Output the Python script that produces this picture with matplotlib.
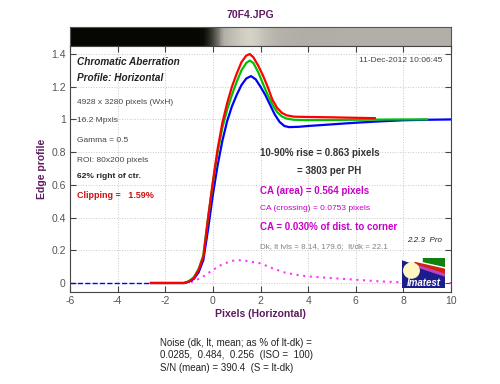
import matplotlib
matplotlib.use("Agg")
import matplotlib.pyplot as plt
import matplotlib.patches as mpatches
from matplotlib.colors import LinearSegmentedColormap
import numpy as np

plt.rcParams['font.family'] = ['Liberation Sans', 'DejaVu Sans']
plt.rcParams['axes.unicode_minus'] = False

# Edge profiles (x in pixels, y = edge profile)
red_x = [-2.6, -1.5, -1.2, -1.0, -0.8, -0.6, -0.4, -0.2, 0.0, 0.2, 0.4, 0.6, 0.8, 1.0, 1.2, 1.4, 1.55,
         1.7, 1.9, 2.1, 2.3, 2.5, 2.7, 2.9, 3.1, 3.4, 4.0, 5.0, 6.0, 6.8]
red_y = [0.0, 0.0, 0.0, 0.01, 0.03, 0.08, 0.16, 0.40, 0.62, 0.82, 0.98, 1.10, 1.20, 1.28, 1.35, 1.39, 1.40,
         1.38, 1.33, 1.27, 1.20, 1.12, 1.07, 1.04, 1.025, 1.017, 1.015, 1.013, 1.01, 1.008]

green_x = [-2.6, -1.5, -1.2, -1.0, -0.8, -0.6, -0.4, -0.2, 0.0, 0.2, 0.4, 0.6, 0.8, 1.0, 1.2, 1.4, 1.55,
           1.7, 1.9, 2.1, 2.3, 2.5, 2.7, 2.9, 3.1, 3.4, 4.0, 5.0, 6.0, 7.0, 8.0, 9.0]
green_y = [0.0, 0.0, 0.0, 0.012, 0.035, 0.085, 0.17, 0.40, 0.61, 0.80, 0.95, 1.06, 1.15, 1.23, 1.30, 1.345, 1.36,
           1.345, 1.29, 1.22, 1.15, 1.09, 1.045, 1.018, 1.005, 0.998, 0.996, 0.997, 0.998, 0.999, 1.0, 1.0]

blue_x = [-2.6, -1.5, -1.2, -1.0, -0.8, -0.6, -0.4, -0.2, 0.0, 0.2, 0.4, 0.6, 0.8, 1.0, 1.2, 1.4, 1.6,
          1.8, 2.0, 2.2, 2.4, 2.6, 2.8, 3.0, 3.2, 3.6, 4.0, 5.0, 6.0, 7.0, 8.0, 9.0, 10.0]
blue_y = [0.0, 0.0, 0.0, 0.008, 0.025, 0.065, 0.14, 0.33, 0.54, 0.72, 0.87, 0.99, 1.08, 1.15, 1.21, 1.25, 1.265,
          1.245, 1.20, 1.15, 1.09, 1.03, 0.985, 0.96, 0.953, 0.955, 0.96, 0.97, 0.98, 0.988, 0.995, 0.998, 1.0]

blue_ext_x = [-6.0, -2.6]
blue_ext_y = [0.0, 0.0]

# CA difference curve (magenta dots)
ca_x = [-1.2, -0.8, -0.4, 0.0, 0.4, 0.8, 1.0, 1.3, 1.6, 2.0, 2.5, 3.0, 3.5, 4.0, 5.0, 6.0, 7.0, 8.0, 9.0, 10.0]
ca_y = [0.0, 0.01, 0.04, 0.08, 0.115, 0.135, 0.14, 0.138, 0.13, 0.12, 0.09, 0.065, 0.05, 0.04, 0.03, 0.02,
        0.01, 0.004, 0.002, 0.0]

xticks = [-6, -4, -2, 0, 2, 4, 6, 8, 10]
yticks = [0, 0.2, 0.4, 0.6, 0.8, 1.0, 1.2, 1.4]
ytick_labels = ['0', '0.2', '0.4', '0.6', '0.8', '1', '1.2', '1.4']

W, H = 500, 384
fig = plt.figure(figsize=(5.0, 3.84), dpi=100)
fig.patch.set_facecolor('white')

def fx(px):
    return px / W

def fy(py):
    return 1 - py / H

purple = '#5e1a60'
magenta = '#c800c8'
dark = '#333333'

# image strip above the plot (edge rendered with gamma)
strip = fig.add_axes([fx(70), fy(46), fx(381), 19 / H])
sx = np.linspace(-6, 10, 400)
level = np.interp(sx, green_x, green_y, left=0.0, right=1.0) ** 2
strip_cmap = LinearSegmentedColormap.from_list(
    'edge', [(0.0, (0.03, 0.03, 0.01)), (1.0 / 1.9, (0.70, 0.69, 0.66)), (1.0, (0.84, 0.83, 0.78))])
strip.imshow(level[np.newaxis, :], aspect='auto', cmap=strip_cmap, vmin=0, vmax=1.9,
             extent=[-6, 10, 0, 1], interpolation='nearest')
strip.set_xticks([])
strip.set_yticks([])
for s in strip.spines.values():
    s.set_color('#555555')
    s.set_linewidth(0.8)

ax = fig.add_axes([fx(70), fy(292), fx(381), (292 - 46) / H])
ax.plot(blue_ext_x, blue_ext_y, color='#0000ff', lw=1.0, ls='--')
ax.plot(ca_x, ca_y, color='#ff33ff', lw=1.5, ls=(0, (1, 2.2)))
ax.plot(blue_x, blue_y, color='#0000ff', lw=1.6)
ax.plot(green_x, green_y, color='#00c000', lw=1.6)
ax.plot(red_x, red_y, color='#ff0000', lw=1.6)

ax.set_xlim(-6, 10)
ax.set_ylim(-0.055, 1.449)
ax.set_xticks(xticks)
ax.set_yticks(yticks)
ax.set_yticklabels(ytick_labels)
ax.tick_params(direction='in', length=4, width=0.8, top=True, right=True,
               labelsize=7.5, labelcolor='#555555', color='#444444', pad=3)
ax.grid(True, ls=':', color='#c8c8c8', lw=0.7)
ax.set_axisbelow(True)
for s in ax.spines.values():
    s.set_color('#444444')
    s.set_linewidth(0.8)

ax.set_xlabel('Pixels (Horizontal)', fontsize=7.5, fontweight='bold', color=purple, labelpad=2)
ax.set_ylabel('Edge profile', fontsize=7.5, fontweight='bold', color=purple, labelpad=3)
fig.text(fx(250), fy(15), '70F4.JPG', fontsize=7.5, fontweight='bold', color=purple,
         ha='center', va='center')

# annotations inside the plot
def t(px, py, s, **kw):
    kw.setdefault('va', 'center')
    fig.text(fx(px), fy(py), s, **kw)

t(77, 62, 'Chromatic Aberration', fontsize=7.2, fontweight='bold', style='italic', color='#222222')
t(77, 78, 'Profile: Horizontal', fontsize=7.2, fontweight='bold', style='italic', color='#222222')
t(77, 103, '4928 x 3280 pixels (WxH)', fontsize=6, color='#444444')
t(77, 120, '16.2 Mpxls', fontsize=6, color='#444444')
t(77, 141, 'Gamma = 0.5', fontsize=6, color='#444444')
t(77, 160, 'ROI: 80x200 pixels', fontsize=6, color='#444444')
t(77, 177, '62% right of ctr.', fontsize=6, fontweight='bold', color='#222222')
t(77, 196, 'Clipping =   1.59%', fontsize=6.5, fontweight='bold', color='#d01010')
t(442, 61, '11-Dec-2012 10:06:45', fontsize=6, color='#444444', ha='right')

t(260, 153, '10-90% rise = 0.863 pixels', fontsize=7, fontweight='bold', color=dark)
t(297, 171, '= 3803 per PH', fontsize=7, fontweight='bold', color=dark)
t(260, 191, 'CA (area) = 0.564 pixels', fontsize=7, fontweight='bold', color=magenta)
t(260, 208, 'CA (crossing) = 0.0753 pixels', fontsize=6, color=magenta)
t(260, 227, 'CA = 0.030% of dist. to corner', fontsize=7, fontweight='bold', color=magenta)
t(260, 247, 'Dk, lt lvls = 8.14, 179.6;  lt/dk = 22.1', fontsize=5.8, color='#808080')
t(442, 240, '2.2.3  Pro', fontsize=5.8, style='italic', color='#222222', ha='right')

# Imatest logo
logo = fig.add_axes([fx(402), fy(288), fx(43), 30 / H])
logo.set_xlim(0, 1)
logo.set_ylim(0, 1)
logo.axis('off')
logo.add_patch(mpatches.Rectangle((0, 0), 1, 1, color='#1c1c8c'))
logo.add_patch(mpatches.Polygon([(0, 1), (1, 1), (1, 0.45), (0, 0.95)], color='white'))
logo.add_patch(mpatches.Polygon([(0.5, 1), (1, 1), (1, 0.72), (0.5, 0.88)], color='#108010'))
logo.add_patch(mpatches.Polygon([(0.3, 0.85), (1, 0.62), (1, 0.48), (0.3, 0.78)], color='#d02010'))
logo.add_patch(mpatches.Polygon([(0.2, 0.82), (1, 0.46), (1, 0.40), (0.2, 0.78)], color='#c040c0'))
logo.add_patch(mpatches.Ellipse((0.22, 0.58), 0.36, 0.5, color='#fff8c0'))
logo.text(0.5, 0.17, 'Imatest', color='white', fontsize=7, fontweight='bold', style='italic',
          ha='center', va='center')

# noise summary under the plot
t(160, 343, 'Noise (dk, lt, mean; as % of lt-dk) =', fontsize=7, color='#222222')
t(160, 355, '0.0285,  0.484,  0.256  (ISO =  100)', fontsize=7, color='#222222')
t(160, 368, 'S/N (mean) = 390.4  (S = lt-dk)', fontsize=7, color='#222222')

fig.savefig('out.png', dpi=100)
